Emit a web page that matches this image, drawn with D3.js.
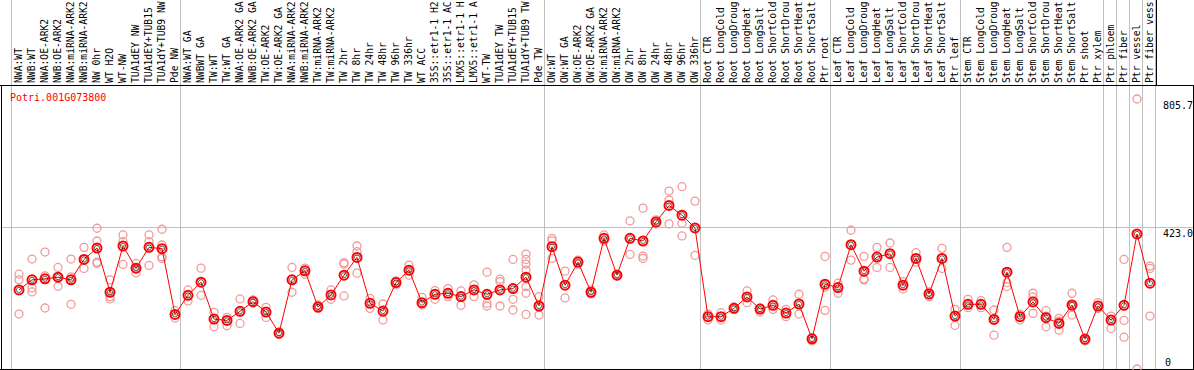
<!DOCTYPE html>
<html>
<head>
<meta charset="utf-8">
<script src="https://cdn.jsdelivr.net/npm/d3@7"></script>
<style>
  body { margin: 0; background: #fff; }
  svg { display: block; }
  text { font-family: "DejaVu Sans Mono", monospace; font-size: 10px; }
  text.sample { font-size: 9.7px; }
</style>
</head>
<body>
<div id="chart"></div>
<script>
var geneName = "Potri.001G073800";

// sample names as they are printed (the strip cuts them at 14 characters)
var labels = [
  "NWA:WT", "NWB:WT", "NWA:OE-ARK2", "NWB:OE-ARK2", "NWA:miRNA-ARK2", "NWB:miRNA-ARK2",
  "NW 0hr", "WT H2O", "WT-NW", "TUA1dEY NW", "TUA1dEY+TUB15", "TUA1dY+TUB9 NW", "Pde NW",
  "NWA:WT GA", "NWBWT GA", "TW:WT", "TW:WT GA", "NWA:OE-ARK2 GA", "NWB:OE-ARK2 GA",
  "TW:OE-ARK2", "TW:OE-ARK2 GA", "NWA:miRNA-ARK2 ", "NWB:miRNA-ARK2 ", "TW:miRNA-ARK2",
  "TW:miRNA-ARK2 ", "TW 2hr", "TW 8hr", "TW 24hr", "TW 48hr", "TW 96hr", "TW 336hr",
  "WT ACC", "35S::etr1-1 H2", "35S::etr1-1 AC", "LMX5::etr1-1 H", "LMX5::etr1-1 A",
  "WT-TW", "TUA1dEY TW", "TUA1dEY+TUB15 ", "TUA1dY+TUB9 TW", "Pde TW",
  "OW:WT", "OW:WT GA", "OW:OE-ARK2", "OW:OE-ARK2 GA", "OW:miRNA-ARK2", "OW:miRNA-ARK2 ",
  "OW 2hr", "OW 8hr", "OW 24hr", "OW 48hr", "OW 96hr", "OW 336hr",
  "Root CTR", "Root LongCold", "Root LongDroug", "Root LongHeat", "Root LongSalt",
  "Root ShortCold", "Root ShortDrou", "Root ShortHeat", "Root ShortSalt", "Ptr root",
  "Leaf CTR", "Leaf LongCold", "Leaf LongDroug", "Leaf LongHeat", "Leaf LongSalt",
  "Leaf ShortCold", "Leaf ShortDrou", "Leaf ShortHeat", "Leaf ShortSalt", "Ptr leaf",
  "Stem CTR", "Stem LongCold", "Stem LongDroug", "Stem LongHeat", "Stem LongSalt",
  "Stem ShortCold", "Stem ShortDrou", "Stem ShortHeat", "Stem ShortSalt", "Ptr shoot",
  "Ptr xylem", "Ptr phloem", "Ptr fiber", "Ptr vessel", "Ptr fiber vess"
];

// first sample of each group (a grey separator is drawn before it)
var groupStarts = ["NWA:WT", "NWA:WT GA", "OW:WT", "Root CTR", "Leaf CTR", "Stem CTR",
  "Ptr phloem", "Ptr fiber", "Ptr vessel", "Ptr fiber vess"];

var means = [
  236, 266, 269, 274, 266, 327, 361, 229, 367, 301, 363, 359, 163,
  220, 259, 149, 145, 172, 201, 170, 107, 266, 293, 185, 221, 280, 333, 196, 173, 258,
  295, 198, 223, 226, 216, 236, 223, 236, 240, 274, 188,
  365, 250, 319, 229, 390, 280, 390, 382, 439, 488, 459, 421,
  156, 156, 181, 215, 179, 190, 167, 194, 90, 253,
  243, 371, 292, 334, 344, 250, 330, 224, 330, 158,
  193, 193, 148, 289, 156, 200, 153, 136, 191, 89, 188,
  146, 190, 403, 256
];

var replicates = [
  [283, 266, 164], [328, 242, 230], [349, 278, 182], [303, 275, 247], [328, 275, 193],
  [363, 327, 300], [420, 382, 319, 315], [266, 216, 209], [400, 380, 312], [315, 301, 287],
  [400, 380, 309], [417, 370, 335, 330], [174, 152],
  [236, 203], [301, 220], [169, 126], [154, 129], [209, 136], [206, 197], [184, 154],
  [111, 104], [303, 229], [301, 283], [191, 181], [236, 208], [317, 313, 218],
  [367, 350, 286], [211, 181], [194, 146], [263, 251], [310, 280], [214, 191],
  [234, 208], [240, 216], [233, 190], [251, 216], [289, 196, 188], [268, 261, 188],
  [327, 208, 176], [343, 327, 313, 295, 246, 226, 163], [216, 161],
  [390, 383, 330], [292, 212], [325, 313], [236, 224], [400, 382], [278, 283],
  [442, 342], [480, 337, 330], [445, 433], [531, 504, 433], [544, 435, 397], [501, 339],
  [164, 146], [168, 146], [185, 178], [233, 198], [182, 170], [206, 178], [178, 156],
  [223, 164], [93, 84], [336, 244, 175],
  [256, 226], [414, 325], [336, 269, 266], [363, 303], [376, 303], [261, 239],
  [347, 319], [230, 216], [360, 300], [178, 130],
  [208, 183], [204, 183], [176, 148, 101], [363, 258, 246], [164, 146], [226, 215, 166],
  [174, 158, 126], [151, 143, 116], [226, 188, 161], [93, 84], [198, 181],
  [158, 121], [327, 145, 95], [805.7, 0], [307, 300, 158]
];

var yTicks = [805.7, 423.0, 0];
var gridValues = [423.0];

var width = 1194, height = 370;
var plot = {left: 1, right: 1155, top: 85, bottom: 369};

var svg = d3.select("#chart").append("svg")
  .attr("width", width)
  .attr("height", height);

var x = d3.scaleBand()
  .domain(d3.range(labels.length))
  .range([11, plot.right]);

var y = d3.scaleLinear()
  .domain([0, 805.7])
  .range([plot.bottom, 99]);

function cx(i) { return x(i) + 8; }

// grey group separators, running through the label strip
var sepX = groupStarts.map(function(name) { return x(labels.indexOf(name)); }).concat([plot.right]);
svg.selectAll("line.sep").data(sepX).enter()
  .append("line")
    .attr("class", "sep")
    .attr("x1", function(d) { return d + 0.5; })
    .attr("x2", function(d) { return d + 0.5; })
    .attr("y1", 0)
    .attr("y2", plot.bottom)
    .attr("stroke", "#c0c0c0")
    .attr("stroke-width", 1)
    .attr("shape-rendering", "crispEdges");

// horizontal grid
svg.selectAll("line.hgrid").data(gridValues).enter()
  .append("line")
    .attr("class", "hgrid")
    .attr("x1", plot.left)
    .attr("x2", width)
    .attr("y1", function(d) { return Math.round(y(d)) + 0.5; })
    .attr("y2", function(d) { return Math.round(y(d)) + 0.5; })
    .attr("stroke", "#c0c0c0")
    .attr("shape-rendering", "crispEdges");

// frame
var frame = svg.append("g")
  .attr("stroke", "#000")
  .attr("shape-rendering", "crispEdges");
frame.append("line").attr("x1", 0).attr("x2", width).attr("y1", plot.top + 0.5).attr("y2", plot.top + 0.5);
frame.append("line").attr("x1", 0).attr("x2", width).attr("y1", plot.bottom + 0.5).attr("y2", plot.bottom + 0.5);
frame.append("line").attr("x1", 1.5).attr("x2", 1.5).attr("y1", plot.top).attr("y2", plot.bottom);
frame.append("line").attr("x1", width - 0.5).attr("x2", width - 0.5).attr("y1", plot.top).attr("y2", plot.bottom);
frame.append("line").attr("x1", plot.right + 1.5).attr("x2", plot.right + 1.5).attr("y1", 0).attr("y2", plot.top);

// sample labels, rotated
svg.append("g").selectAll("text").data(labels).enter()
  .append("text")
    .attr("class", "sample")
    .attr("transform", function(d, i) { return "translate(" + (x(i) + 10.5) + "," + (plot.top - 2) + ") rotate(-90)"; })
    .attr("fill", "#000")
    .attr("xml:space", "preserve")
    .text(function(d) { return d.trim(); });

// replicate points
var reps = [];
replicates.forEach(function(vals, i) {
  vals.forEach(function(v) { reps.push({i: i, value: v}); });
});
svg.append("g").selectAll("circle").data(reps).enter()
  .append("circle")
    .attr("cx", function(d) { return cx(d.i); })
    .attr("cy", function(d) { return y(d.value); })
    .attr("r", 4)
    .attr("fill", "none")
    .attr("stroke", "#f09a9a")
    .attr("stroke-width", 1.3);

// mean line
var meanData = means.map(function(v, i) { return {i: i, value: v}; });
svg.append("path")
  .datum(meanData)
  .attr("fill", "none")
  .attr("stroke", "#ff0000")
  .attr("stroke-width", 1)
  .attr("d", d3.line()
    .x(function(d) { return cx(d.i); })
    .y(function(d) { return y(d.value); }));

var meanPts = svg.append("g").selectAll("g").data(meanData).enter()
  .append("g")
    .attr("transform", function(d) { return "translate(" + cx(d.i) + "," + y(d.value) + ")"; });
meanPts.append("circle")
    .attr("r", 4.5)
    .attr("fill", "none")
    .attr("stroke", "#ff0000")
    .attr("stroke-width", 2);
meanPts.append("circle")
    .attr("r", 2.6)
    .attr("fill", "none")
    .attr("stroke", "#000")
    .attr("stroke-width", 0.6);

// gene name
svg.append("text")
  .attr("x", 10)
  .attr("y", 101)
  .attr("fill", "#ff0000")
  .text(geneName);

// value labels on the right
svg.append("g").selectAll("text").data(yTicks).enter()
  .append("text")
    .attr("x", function(d) { return d === 0 ? 1165 : 1163; })
    .attr("y", function(d) { return Math.min(y(d) + 10, plot.bottom - 3); })
    .attr("fill", "#000")
    .text(function(d) { return d === 0 ? "0" : d.toFixed(1); });
</script>
</body>
</html>
